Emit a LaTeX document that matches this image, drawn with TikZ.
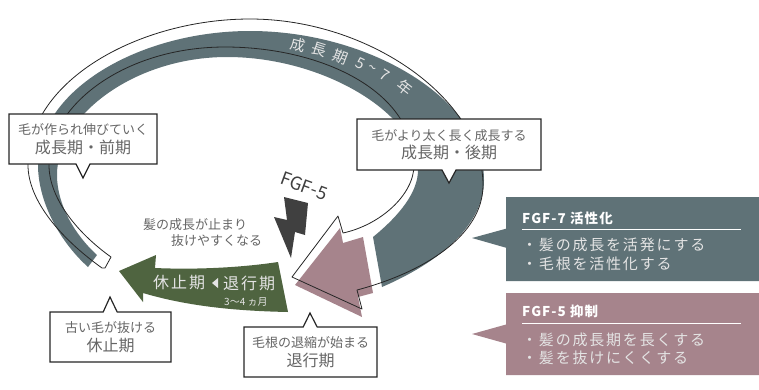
\documentclass[tikz,border=0pt]{standalone}
\usepackage{fontspec}
\setmainfont{Noto Sans CJK JP}
\usepackage{tikz}
\usetikzlibrary{shapes.callouts}
\definecolor{bandgrey}{HTML}{5F7277}
\definecolor{rosegrey}{HTML}{A6848C}
\definecolor{leafgreen}{HTML}{4F6440}
\definecolor{inkgrey}{HTML}{666666}
\definecolor{palegrey}{HTML}{E4E4E4}
\newcommand{\stagenote}{\fontsize{13}{16}\selectfont}
\newcommand{\stagename}{\fontsize{16}{20}\selectfont}
\newcommand{\tildemark}{\char126 }
\begin{document}
\begin{tikzpicture}
[x=1pt,y=-1pt,
 stagebox/.style={rectangle callout, draw=black!85, line width=1.2pt, fill=white,
   text=inkgrey, align=center, inner sep=0pt, callout pointer width=14pt},
 effectbox/.style={rectangle callout, draw=none, inner sep=0pt, callout pointer width=19pt},
 onbox/.style={anchor=west, text=palegrey, inner sep=0pt,
   font=\fontsize{15}{18}\addfontfeature{LetterSpace=12}\selectfont},
 ontitle/.style={anchor=west, text=white, inner sep=0pt,
   font=\fontsize{13.5}{16}\bfseries\addfontfeature{LetterSpace=8}\selectfont},
 onband/.style={text=palegrey, inner sep=0pt, font=\fontsize{15}{18}\selectfont}]
  \useasboundingbox (0,0) rectangle (759,389);
  % growth band
  \fill[bandgrey] (88,267) .. controls (58,240) and (38,200) .. (38,165)
    .. controls (38,90) and (140,31) .. (250,31)
    .. controls (370,31) and (484,100) .. (484,180)
    .. controls (484,225) and (440,262) .. (382,287)
    -- (373,237) .. controls (400,215) and (418,192) .. (418,170)
    .. controls (418,115) and (325,57) .. (227,57)
    .. controls (135,57) and (57,115) .. (57,175)
    .. controls (57,205) and (75,235) .. (97,255) -- cycle;
  % catagen arrow
  \fill[rosegrey] (295,285) -- (340,228) -- (343,243) -- (363,237) -- (373,293) -- (358,297)
    -- (362,317) -- cycle;
  % outline offset from the band
  \draw[black!85, line width=0.8pt, line join=round]
    (102,268) .. controls (60,238) and (28,200) .. (28,165)
    .. controls (28,80) and (140,19) .. (250,19)
    .. controls (370,19) and (483,100) .. (483,185)
    .. controls (483,235) and (425,272) .. (357,290)
    -- (362,309) -- (292,277) -- (338,216) -- (343,233)
    .. controls (380,225) and (414,195) .. (414,165)
    .. controls (414,90) and (320,47) .. (225,47)
    .. controls (125,47) and (49,105) .. (49,165)
    .. controls (49,200) and (80,235) .. (111,257)
    -- (105,268) -- cycle;
  % resting arrow
  \fill[leafgreen] (119,271) -- (156,255) -- (155,268) .. controls (200,270) and (245,267) .. (278,262)
    -- (288,312) .. controls (240,311) and (190,307) .. (143,293) -- (143,302) -- cycle;
  \fill[black!75] (284,197) -- (308,203) -- (305,235) -- (295,232) -- (291,258) -- (274,217)
    -- (287,220) -- cycle;

  \foreach \cx/\cy/\rot/\ch in {298/45/-14/成, 319/50/-17/長, 340/57/-21/期, 360/63/-25/5,
      372/69/-28/\tildemark, 385/75/-32/7, 405/88/-38/年}
    \node[onband, rotate=\rot] at (\cx,\cy) {\ch};

  \node[rotate=-20, text=black!75, font=\fontsize{18}{20}\selectfont] (FgfFive) at (304,186) {FGF-5};
  \node[anchor=west, text=inkgrey, font=\stagenote, inner sep=0pt] (StopOne) at (143,225) {髪の成長が止まり};
  \node[anchor=west, text=inkgrey, font=\stagenote, inner sep=0pt] (StopTwo) at (171,241) {抜けやすくなる};

  \node[anchor=west, text=palegrey, inner sep=0pt, font=\fontsize{16}{18}\addfontfeature{LetterSpace=12}\selectfont]
    (RestLabel) at (153,282) {休止期};
  \node[anchor=west, text=palegrey, inner sep=0pt, font=\fontsize{16}{18}\addfontfeature{LetterSpace=12}\selectfont]
    (BackLabel) at (223,283) {退行期};
  \fill[palegrey] (212,283) -- (218,278) -- (218,288) -- cycle;
  \node[anchor=west, text=palegrey, inner sep=0pt, font=\fontsize{10}{12}\selectfont]
    (BackTime) at (224,302) {3～4 ヵ月};

  \node[stagebox, minimum width=148pt, minimum height=50pt, callout absolute pointer={(83,178)}]
    (EarlyGrowth) at (83,139) {{\stagenote 毛が作られ伸びていく}\\[3pt]{\stagename 成長期・前期}};
  \node[stagebox, minimum width=184pt, minimum height=51pt, callout absolute pointer={(449,183)}]
    (LateGrowth) at (449,144.5) {{\stagenote 毛がより太く長く成長する}\\[3pt]{\stagename 成長期・後期}};
  \node[stagebox, minimum width=121pt, minimum height=50pt, callout absolute pointer={(110,297)}]
    (RestStage) at (110.5,337) {{\stagenote 古い毛が抜ける}\\[3pt]{\stagename 休止期}};
  \node[stagebox, minimum width=133pt, minimum height=50pt, callout absolute pointer={(310,313)}]
    (BackStage) at (310.5,352) {{\stagenote 毛根の退縮が始まる}\\[3pt]{\stagename 退行期}};

  \node[effectbox, fill=bandgrey, minimum width=253pt, minimum height=84pt,
    callout absolute pointer={(472,238)}] (FgfSeven) at (632.5,239) {};
  \node[ontitle] (SevenTitle) at (522,218) {FGF-7 活性化};
  \draw[white, line width=1pt] (522,229) -- (741,229);
  \node[onbox] (SevenOne) at (522,245) {・髪の成長を活発にする};
  \node[onbox] (SevenTwo) at (522,264) {・毛根を活性化する};

  \node[effectbox, fill=rosegrey, minimum width=253pt, minimum height=82pt,
    callout absolute pointer={(472,334)}] (FgfFiveBox) at (632.5,334) {};
  \node[ontitle] (FiveTitle) at (522,311) {FGF-5 抑制};
  \draw[white, line width=1pt] (522,323) -- (741,323);
  \node[onbox] (FiveOne) at (522,340) {・髪の成長期を長くする};
  \node[onbox] (FiveTwo) at (522,358) {・髪を抜けにくくする};
\end{tikzpicture}
\end{document}
